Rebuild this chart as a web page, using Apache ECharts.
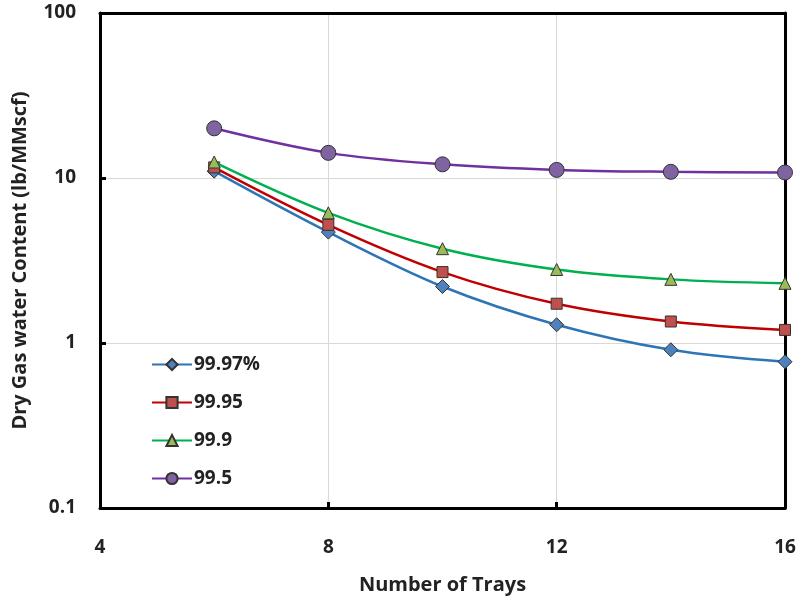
<!DOCTYPE html>
<html>
<head>
<meta charset="utf-8">
<script src="https://cdn.jsdelivr.net/npm/echarts@6/dist/echarts.min.js"></script>
<style>
  html, body { margin: 0; padding: 0; background: #fff; }
  #chart { width: 800px; height: 603px; }
</style>
</head>
<body>
<div id="chart"></div>
<script>
// data
const trays = [6, 8, 10, 12, 14, 16];
const names = ['99.97%', '99.95', '99.9', '99.5'];
const s9997 = [11.0, 4.7, 2.2, 1.29, 0.91, 0.77];
const s9995 = [11.6, 5.2, 2.69, 1.73, 1.35, 1.20];
const s999 = [12.5, 6.15, 3.73, 2.79, 2.43, 2.30];
const s995 = [20, 14.2, 12.1, 11.2, 10.9, 10.8];

const FONT = 'Open Sans, sans-serif';

const styles = [
  { line: '#2e75b6', fill: '#4f81bd', symbol: 'diamond', size: 14 },
  { line: '#c00000', fill: '#c0504d', symbol: 'rect', size: 11 },
  { line: '#00b050', fill: '#9bbb59', symbol: 'triangle', size: 12 },
  { line: '#7030a0', fill: '#8064a2', symbol: 'circle', size: 15 }
];

const values = [s9997, s9995, s999, s995];

const myChart = echarts.init(document.getElementById('chart'), null, { renderer: 'canvas' });

const series = values.map((arr, i) => ({
  name: names[i],
  type: 'line',
  smooth: 0.35,
  data: trays.map((t, j) => [t, arr[j]]),
  symbol: styles[i].symbol,
  symbolSize: styles[i].size,
  lineStyle: { color: styles[i].line, width: 2.5 },
  itemStyle: { color: styles[i].fill, borderColor: '#333', borderWidth: 1 },
  z: 3 + i
}));

const frameLine = { show: true, lineStyle: { color: '#000', width: 3 } };

const option = {
  animation: false,
  backgroundColor: '#fff',
  grid: { left: 100, right: 15, top: 13, bottom: 95 },
  legend: {
    orient: 'vertical',
    left: 146,
    top: 350,
    itemWidth: 40,
    itemHeight: 14,
    itemGap: 19,
    data: names,
    textStyle: { fontFamily: FONT, fontSize: 19, fontWeight: 'bold', color: '#222', padding: [0, 0, 0, -3] }
  },
  xAxis: [{
    type: 'value',
    min: 4, max: 16, interval: 4,
    name: 'Number of Trays',
    nameLocation: 'middle',
    nameGap: 67,
    nameTextStyle: { fontFamily: FONT, fontSize: 20, fontWeight: 'bold', color: '#222' },
    axisLine: frameLine,
    axisTick: { show: true, inside: true, length: 6, lineStyle: { color: '#000', width: 3 } },
    axisLabel: { margin: 30, fontFamily: FONT, fontSize: 19, fontWeight: 'bold', color: '#222' },
    splitLine: { show: true, lineStyle: { color: '#d9d9d9', width: 1 } }
  }, {
    // top edge of the frame
    type: 'value', position: 'top', min: 4, max: 16, interval: 4,
    axisLine: frameLine, axisTick: { show: false }, axisLabel: { show: false }, splitLine: { show: false }
  }],
  yAxis: [{
    type: 'log',
    logBase: 10,
    min: 0.1, max: 100,
    name: 'Dry Gas water Content (lb/MMscf)',
    nameLocation: 'middle',
    nameGap: 70,
    nameTextStyle: { fontFamily: FONT, fontSize: 20, fontWeight: 'bold', color: '#222' },
    axisLine: frameLine,
    axisTick: { show: true, inside: true, length: 6, lineStyle: { color: '#000', width: 3 } },
    axisLabel: {
      margin: 24, fontFamily: FONT, fontSize: 19, fontWeight: 'bold', color: '#222',
      formatter: v => String(Math.round(v * 10) / 10)
    },
    splitLine: { show: true, lineStyle: { color: '#d9d9d9', width: 1 } }
  }, {
    // right edge of the frame
    type: 'log', logBase: 10, position: 'right', min: 0.1, max: 100,
    axisLine: frameLine, axisTick: { show: false }, axisLabel: { show: false }, splitLine: { show: false }
  }],
  series: series
};

myChart.setOption(option);
</script>
</body>
</html>
